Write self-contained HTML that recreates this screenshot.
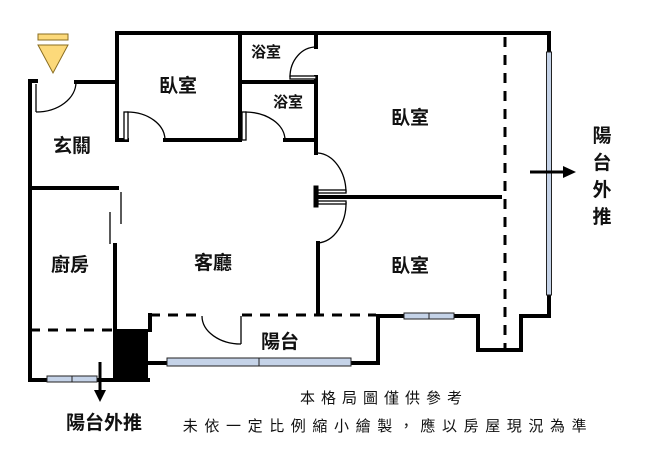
<!DOCTYPE html>
<html><head><meta charset="utf-8"><style>
html,body{margin:0;padding:0;background:#fff;}
svg{display:block;}
text{font-family:"Liberation Sans","Noto Sans CJK TC",sans-serif;font-weight:bold;fill:#111;}
.n{font-weight:normal;}
</style></head><body>
<svg width="654" height="456" viewBox="0 0 654 456" xmlns="http://www.w3.org/2000/svg">
<g stroke="#000" stroke-width="4" fill="none" stroke-linecap="square">
<polyline points="117,140 117,33 549,33 549,52"/>
<polyline points="36,81 30,81 30,380 148,380"/>
<line x1="76" y1="82" x2="117" y2="82"/>
<line x1="117" y1="140" x2="127" y2="140"/>
<polyline points="165,140 240,140 240,33"/>
<line x1="240" y1="82" x2="316" y2="82"/>
<line x1="316" y1="33" x2="316" y2="47"/>
<line x1="316" y1="77" x2="316" y2="153"/>
<line x1="285" y1="140" x2="316" y2="140"/>
<line x1="318" y1="197" x2="500" y2="197"/>
<line x1="316" y1="188" x2="316" y2="205" stroke-width="5"/>
<line x1="318" y1="243" x2="318" y2="312"/>
<line x1="30" y1="188" x2="117" y2="188"/>
<line x1="115" y1="245" x2="115" y2="378"/>
<line x1="150" y1="315" x2="150" y2="330"/>
<polyline points="148,363 378,363 378,316 478,316 478,350 521,350 521,316 549,316 549,295"/>
</g>
<g stroke="#000" stroke-width="1.3" fill="none">
<line x1="121" y1="192" x2="121" y2="224"/>
<line x1="110" y1="212" x2="110" y2="244"/>
<path d="M36,112 A40,30 0 0 0 76,82"/>
<line x1="36" y1="112" x2="36" y2="84"/>
<path d="M127,112 A38,28 0 0 1 165,140"/>
<rect x="124" y="112" width="4" height="28" fill="#fff"/>
<path d="M245,112 A40,28 0 0 1 285,140"/>
<rect x="242" y="112" width="4" height="28" fill="#fff"/>
<path d="M316,47 A26,30 0 0 0 290,77"/>
<rect x="290" y="76" width="26" height="3" fill="#fff"/>
<path d="M318,153 A30,40 0 0 1 346,192"/>
<path d="M346,202 A30,40 0 0 1 318,243"/>
<rect x="318" y="190" width="28" height="3" fill="#fff"/>
<rect x="318" y="201" width="28" height="3" fill="#fff"/>
<path d="M202,316 A39,28 0 0 0 241,344"/>
<line x1="241" y1="316" x2="241" y2="344"/>
</g>
<g stroke="#000" stroke-width="3" stroke-dasharray="10,8" fill="none">
<line x1="30" y1="330" x2="113" y2="330"/>
<line x1="150" y1="315" x2="202" y2="315"/>
<line x1="242" y1="315" x2="376" y2="315"/>
<line x1="505" y1="37" x2="505" y2="350"/>
</g>
<rect x="114" y="329" width="34" height="52" fill="#000"/>
<g fill="#c5d3e8" stroke="#222" stroke-width="1">
<rect x="546.5" y="52" width="5" height="243"/>
<rect x="167" y="358" width="184" height="8"/>
<line x1="259" y1="358" x2="259" y2="366"/>
<rect x="404" y="313" width="50" height="6"/>
<line x1="429" y1="313" x2="429" y2="319"/>
<rect x="47" y="376" width="50" height="6"/>
<line x1="72" y1="376" x2="72" y2="382"/>
</g>
<g stroke="#000" stroke-width="3">
<line x1="530" y1="172" x2="565" y2="172"/>
<line x1="100" y1="362" x2="100" y2="392"/>
</g>
<polygon points="563,166 576,172 563,178" fill="#000"/>
<polygon points="94,390 100,402 106,390" fill="#000"/>
<rect x="38" y="34" width="30" height="6" fill="#fcd97a" stroke="#8a6d20" stroke-width="1"/>
<polygon points="38,45 68,45 53,73" fill="#fcd97a" stroke="#8a6d20" stroke-width="1"/>
<g font-size="19" text-anchor="middle">
<text x="178" y="92">臥室</text>
<text x="72" y="152">玄關</text>
<text x="410" y="124">臥室</text>
<text x="70" y="271">廚房</text>
<text x="213" y="269">客廳</text>
<text x="410" y="272">臥室</text>
<text x="280" y="348">陽台</text>
<text x="104" y="429">陽台外推</text>
<text x="602" y="142">陽</text>
<text x="602" y="169">台</text>
<text x="602" y="196">外</text>
<text x="602" y="223">推</text>
</g>
<g font-size="15" text-anchor="middle">
<text x="266" y="57">浴室</text>
<text x="288" y="107">浴室</text>
</g>
<g font-size="15" text-anchor="middle">
<text x="384" y="403" class="n" letter-spacing="6">本格局圖僅供參考</text>
<text x="388" y="431" class="n" letter-spacing="6.6">未依一定比例縮小繪製，應以房屋現況為準</text>
</g>
</svg>
</body></html>
